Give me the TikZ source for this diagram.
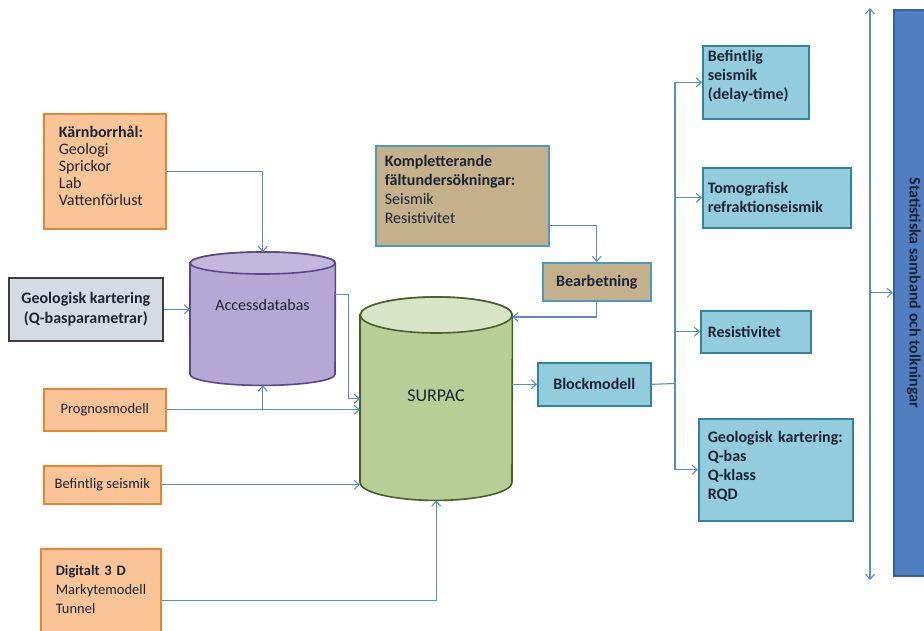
\documentclass[tikz,border=0pt]{standalone}
\usepackage{fontspec}
\setmainfont{Carlito}
\usepackage{tikz}
\usepackage{xcolor}
\usetikzlibrary{arrows.meta,calc}

\definecolor{orfill}{HTML}{FAC496}
\definecolor{orline}{HTML}{E6842F}
\definecolor{grfill}{HTML}{D6DAE2}
\definecolor{grline}{HTML}{3C3C3C}
\definecolor{lavfill}{HTML}{B4A9D4}
\definecolor{lavtop}{HTML}{C2B8DD}
\definecolor{lavline}{HTML}{5B4688}
\definecolor{grnfill}{HTML}{B7CF97}
\definecolor{grntop}{HTML}{D7E4C6}
\definecolor{grnline}{HTML}{4A5E2A}
\definecolor{tanfill}{HTML}{C4B18C}
\definecolor{tanline}{HTML}{4A9AC6}
\definecolor{cyfill}{HTML}{93CDDD}
\definecolor{cyline}{HTML}{31849B}
\definecolor{bigfill}{HTML}{4F7FC0}
\definecolor{bigline}{HTML}{3A5F8F}
\definecolor{arrline}{HTML}{5B8BC8}
\definecolor{txt}{HTML}{1C2433}

% cylinder drawn round an empty node: #1 node, #2 x radius, #3 y radius, #4 body style, #5 top style
\newcommand{\dbcyl}[5]{%
\draw[#4]([yshift=-#3pt]#1.north west)--([yshift=#3pt]#1.south west)
arc[start angle=180,end angle=360,x radius=#2pt,y radius=#3pt]
--([yshift=-#3pt]#1.north east)
arc[start angle=0,end angle=180,x radius=#2pt,y radius=#3pt]--cycle;
\draw[#5]([yshift=-#3pt]#1.north)ellipse[x radius=#2pt,y radius=#3pt];}

\begin{document}
\begin{tikzpicture}[x=1pt,y=-1pt,>={Straight Barb[length=5pt,width=9pt]},
font=\fontsize{16}{19}\selectfont,text=txt,
box/.style={draw,line width=1.6pt,inner sep=0pt,anchor=north west,align=left},
orbox/.style={box,draw=orline,fill=orfill},
small/.style={font=\fontsize{14.5}{19}\selectfont},
tanbox/.style={box,draw=tanline,fill=tanfill},
cybox/.style={box,draw=cyline,fill=cyfill,font=\fontsize{16}{19}\selectfont\bfseries},
topbox/.style={text height=11pt,text depth=#1},
cylbody/.style={inner sep=0pt,anchor=north west},
conn/.style={arrline,line width=1.1pt}]
\useasboundingbox(0,0)rectangle(924,630);

% left sources
\node[orbox,minimum width=122pt,minimum height=115pt,text width=92pt,topbox=78pt,
inner xsep=15pt,inner ysep=13pt,font=\fontsize{16}{17}\selectfont](kb)at(43,113)
{\textbf{Kärnborrhål:}\\Geologi\\Sprickor\\Lab\\Vattenförlust};
\node[box,draw=grline,fill=grfill,minimum width=154pt,minimum height=63pt,align=center,
font=\fontsize{16}{20}\selectfont\bfseries](gk)at(8,277){Geologisk kartering\\(Q-basparametrar)};
\node[orbox,small,minimum width=122pt,minimum height=42pt,align=center](prog)at(43,388){Prognosmodell};
\node[orbox,small,minimum width=117pt,minimum height=38pt,align=center](bef)at(43,465){Befintlig seismik};
\node[orbox,small,minimum width=120pt,minimum height=92pt,text width=90pt,topbox=60pt,
inner xsep=15pt,inner ysep=16pt](dig)at(40,548)
{\textbf{Digitalt 3 D}\\Markytemodell\\Tunnel};

% databases
\node[cylbody,minimum width=145pt,minimum height=133pt](acc)at(190,252){};
\dbcyl{acc}{72.5}{11}{draw=lavline,line width=1.6pt,fill=lavfill}{draw=lavline,line width=1.6pt,fill=lavtop}
\node(acctxt)at(262.5,305){Accessdatabas};
\node[cylbody,minimum width=152pt,minimum height=203pt](surpac)at(360,297){};
\dbcyl{surpac}{76}{18}{draw=grnline,line width=1.6pt,fill=grnfill}{draw=grnline,line width=1.6pt,fill=grntop}
\node[font=\fontsize{18}{20}\selectfont](surtxt)at(436,396){SURPAC};

% field work
\node[tanbox,minimum width=170pt,minimum height=100pt,text width=155pt,topbox=69pt,
inner xsep=9pt,inner ysep=10pt](komp)at(375,145)
{\textbf{Kompletterande}\\\textbf{fältundersökningar:}\\Seismik\\Resistivitet};
\node[tanbox,minimum width=108pt,minimum height=38pt,align=center,font=\fontsize{16}{19}\selectfont\bfseries](bear)at(542,262){Bearbetning};
\node[cybox,minimum width=113pt,minimum height=43pt,align=center](block)at(537,362){Blockmodell};

% results
\node[cybox,minimum width=103pt,minimum height=73pt,text width=96pt,topbox=53pt,
inner xsep=5pt,inner ysep=4pt](r1)at(702,45){Befintlig\\seismik\\(delay-time)};
\node[cybox,minimum width=146pt,minimum height=60pt,text width=138pt,inner xsep=5pt](r2)at(702,167)
{Tomografisk\\refraktionseismik};
\node[cybox,minimum width=105pt,minimum height=42pt,text width=96pt,inner xsep=7pt](r3)at(700,310){Resistivitet};
\node[cybox,minimum width=145pt,minimum height=102pt,text width=136pt,topbox=65pt,
inner xsep=9pt,inner ysep=13pt](r4)at(698,418)
{\rlap{Geologisk kartering:}\\Q-bas\\Q-klass\\RQD};

\node[box,draw=bigline,fill=bigfill,minimum width=40pt,minimum height=566pt](stat)at(893,9){};
\node[rotate=-90,font=\fontsize{16}{19}\selectfont\bfseries,text=txt](stattxt)at(stat.center)
{Statistiska samband och tolkningar};

% connectors
\draw[conn,->](kb.east)-|(acc.north);
\draw[conn,->](gk.east)--(gk.east-|acc.west);
\draw[conn,->](prog.east)-|(acc.south);
\draw[conn,->](prog.east)--(prog.east-|surpac.west);
\draw[conn,->]([yshift=24pt]acc.east)--++(13,0)|-(surpac.west);
\draw[conn,->](bef.east)--(bef.east-|surpac.west);
\draw[conn,->](dig.east)-|(surpac.south);
\draw[conn,->]([yshift=-30pt]komp.east)-|(bear.north);
\draw[conn,->](bear.south)|-([yshift=-20pt]surpac.north east);
\draw[conn,->](block.west-|surpac.east)--(block.west);

\coordinate(bus)at(675,383.5);
\draw[conn](block.east)--(bus);
\draw[conn](r1.west-|bus)--(r4.west-|bus);
\foreach \r in {r1,r2,r3,r4}
\draw[conn,->](\r.west-|bus)--(\r.west);

\coordinate(stattop)at(870,8);
\coordinate(statbot)at(870,580);
\draw[conn,<->](stattop)--(statbot);
\draw[conn,->](stat.west-|stattop)--(stat.west);
\end{tikzpicture}
\end{document}
